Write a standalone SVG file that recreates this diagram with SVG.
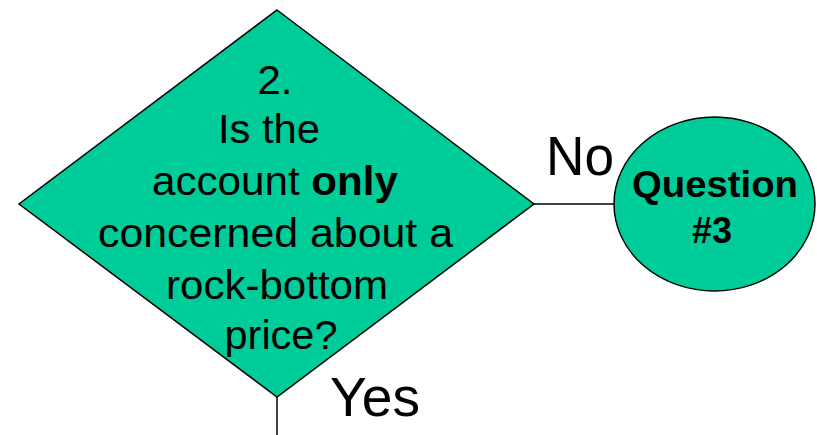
<svg xmlns="http://www.w3.org/2000/svg" width="817" height="435" viewBox="0 0 817 435">
<style>
.shape{fill:#00CC99;stroke:#000;stroke-width:1.5}
.conn{stroke:#000;stroke-width:1.5;fill:none}
.t{font-family:"Liberation Sans",Arial,sans-serif;fill:#000}
</style>
<rect width="817" height="435" fill="#fff"/>
<g id="connectors">
<line class="conn" x1="534" y1="204" x2="615" y2="204"/>
<line class="conn" x1="277" y1="397" x2="277" y2="435"/>
</g>
<g id="decision2">
<polygon class="shape" points="277,10 534,204 277,397 19,204"/>
<g class="t" font-size="40" text-anchor="middle">
<text x="275" y="94" textLength="35" lengthAdjust="spacingAndGlyphs">2.</text>
<text x="269" y="143" textLength="102" lengthAdjust="spacingAndGlyphs">Is the</text>
<text x="275" y="195" textLength="246" lengthAdjust="spacingAndGlyphs">account <tspan font-weight="bold">only</tspan></text>
<text x="275.5" y="247" textLength="355" lengthAdjust="spacingAndGlyphs">concerned about a</text>
<text x="277" y="299" textLength="222" lengthAdjust="spacingAndGlyphs">rock-bottom</text>
<text x="281" y="349" textLength="113" lengthAdjust="spacingAndGlyphs">price?</text>
</g>
</g>
<g id="question3">
<ellipse class="shape" cx="714.5" cy="204" rx="100.5" ry="87"/>
<g class="t" font-size="36" font-weight="bold" text-anchor="middle">
<text x="715" y="197" textLength="166" lengthAdjust="spacingAndGlyphs">Question</text>
<text x="712" y="243">#3</text>
</g>
</g>
<g id="labels" class="t" font-size="55">
<text x="546" y="175" textLength="68" lengthAdjust="spacingAndGlyphs">No</text>
<text x="330" y="416" textLength="90" lengthAdjust="spacingAndGlyphs">Yes</text>
</g>
</svg>
